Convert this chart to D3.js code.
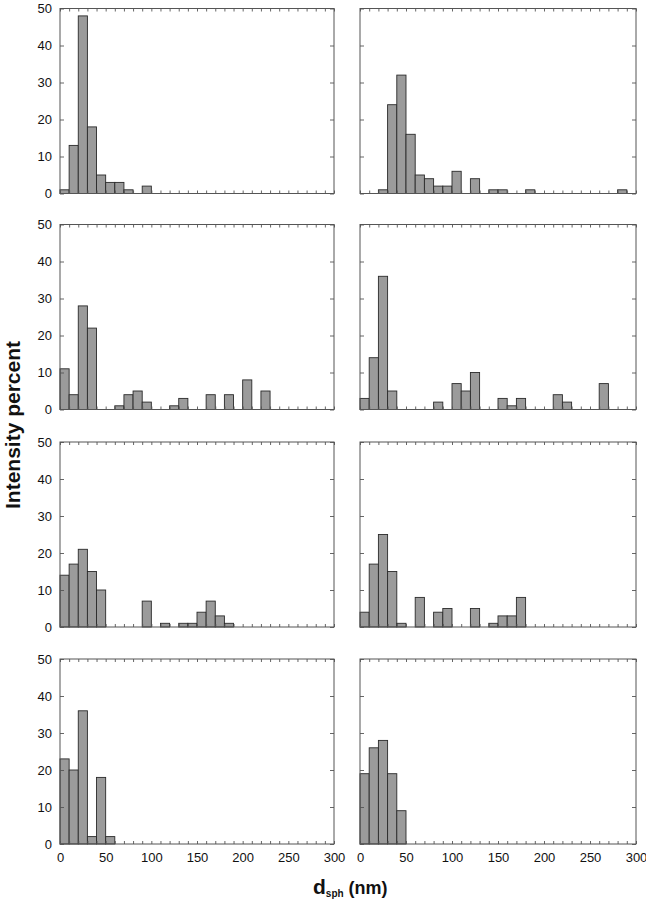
<!DOCTYPE html>
<html>
<head>
<meta charset="utf-8">
<script src="https://cdn.jsdelivr.net/npm/d3@7"></script>
<style>
  html, body { margin: 0; padding: 0; background: #fff; }
  svg { display: block; }
  text { font-family: "Liberation Sans", Arial, Helvetica, sans-serif; }
</style>
</head>
<body>
<svg id="chart" width="646" height="900"></svg>
<script>
// ---- DATA ----
// histogram bin left edges (nm), each bin 10 nm wide
const binStarts = [0,10,20,30,40,50,60,70,80,90,100,110,120,130,140,150,160,170,180,190,200,210,220,230,240,250,260,270,280,290];
const binWidth = 10;

// intensity percent per bin, one array per panel (row by row, left then right)
const panelA = [1,13,48,18,5,3,3,1,0,2,0,0,0,0,0,0,0,0,0,0,0,0,0,0,0,0,0,0,0,0];
const panelB = [0,0,1,24,32,16,5,4,2,2,6,0,4,0,1,1,0,0,1,0,0,0,0,0,0,0,0,0,1,0];
const panelC = [11,4,28,22,0,0,1,4,5,2,0,0,1,3,0,0,4,0,4,0,8,0,5,0,0,0,0,0,0,0];
const panelD = [3,14,36,5,0,0,0,0,2,0,7,5,10,0,0,3,1,3,0,0,0,4,2,0,0,0,7,0,0,0];
const panelE = [14,17,21,15,10,0,0,0,0,7,0,1,0,1,1,4,7,3,1,0,0,0,0,0,0,0,0,0,0,0];
const panelF = [4,17,25,15,1,0,8,0,4,5,0,0,5,0,1,3,3,8,0,0,0,0,0,0,0,0,0,0,0,0];
const panelG = [23,20,36,2,18,2,0,0,0,0,0,0,0,0,0,0,0,0,0,0,0,0,0,0,0,0,0,0,0,0];
const panelH = [19,26,28,19,9,0,0,0,0,0,0,0,0,0,0,0,0,0,0,0,0,0,0,0,0,0,0,0,0,0];

const panels = [panelA, panelB, panelC, panelD, panelE, panelF, panelG, panelH];

const xTickLabels = [0,50,100,150,200,250,300];
const yTickValues = [0,10,20,30,40,50];
const xMinorTicks = [0,10,20,30,40,50,60,70,80,90,100,110,120,130,140,150,160,170,180,190,200,210,220,230,240,250,260,270,280,290,300];
const yLabel = "Intensity percent";

// ---- LAYOUT ----
const svg = d3.select("#chart");
const colRanges = [[60, 334], [360, 636]];
const rowTops = [8.5, 224.5, 442, 659];
const panelH_px = 185;

const frameColor = "#555";
const barFill = "#9b9b9b";
const barStroke = "#2a2a2a";

panels.forEach((vals, idx) => {
  const row = Math.floor(idx / 2), col = idx % 2;
  const x = d3.scaleLinear().domain([0, 300]).range(colRanges[col]);
  const top = rowTops[row];
  const y = d3.scaleLinear().domain([0, 50]).range([top + panelH_px, top]);
  const g = svg.append("g");

  // bars
  const data = binStarts.map((b, i) => ({ b, v: vals[i] })).filter(d => d.v > 0);
  g.selectAll("rect.bar").data(data).join("rect")
    .attr("class", "bar")
    .attr("x", d => x(d.b))
    .attr("y", d => y(d.v))
    .attr("width", d => x(d.b + binWidth) - x(d.b))
    .attr("height", d => y(0) - y(d.v))
    .attr("fill", barFill)
    .attr("stroke", barStroke)
    .attr("stroke-width", 0.9);

  // left axis (labels only in left column)
  const leftAx = d3.axisLeft(y).tickValues(yTickValues).tickSizeInner(-4).tickSizeOuter(0).tickPadding(8)
    .tickFormat(d => col === 0 ? d : "");
  const gl = g.append("g").attr("transform", `translate(${x(0)},0)`).call(leftAx);
  // right axis
  const rightAx = d3.axisRight(y).tickValues(yTickValues).tickSizeInner(-4).tickSizeOuter(0).tickFormat("");
  const gr = g.append("g").attr("transform", `translate(${x(300)},0)`).call(rightAx);
  // top minor ticks
  const topAx = d3.axisTop(x).tickValues(xMinorTicks).tickSizeInner(-3).tickSizeOuter(0).tickFormat("");
  const gt = g.append("g").attr("transform", `translate(0,${y(50)})`).call(topAx);
  // bottom minor ticks + labels in last row
  const botAx = d3.axisBottom(x).tickValues(xMinorTicks).tickSizeInner(-3).tickSizeOuter(0).tickPadding(9)
    .tickFormat(d => (row === 3 && xTickLabels.includes(d)) ? d : "");
  const gb = g.append("g").attr("transform", `translate(0,${y(0)})`).call(botAx);

  [gl, gr, gt, gb].forEach(a => {
    a.select(".domain").remove();
    a.selectAll(".tick line").attr("stroke", frameColor).attr("stroke-width", 0.9);
    a.selectAll(".tick text").attr("fill", "#111").style("font-size", "13px")
      .style("font-family", '"Liberation Sans", Arial, Helvetica, sans-serif');
  });

  // frame
  g.append("rect")
    .attr("x", x(0)).attr("y", y(50))
    .attr("width", x(300) - x(0)).attr("height", y(0) - y(50))
    .attr("fill", "none").attr("stroke", frameColor).attr("stroke-width", 1);
});

// y axis title
svg.append("text")
  .attr("transform", "translate(20,425) rotate(-90)")
  .attr("text-anchor", "middle")
  .style("font-size", "21px").style("font-weight", "bold").attr("fill", "#111")
  .text(yLabel);

// x axis title: d_sph (nm)
const xt = svg.append("text")
  .attr("x", 313).attr("y", 894)
  .style("font-weight", "bold").attr("fill", "#111");
xt.append("tspan").style("font-size", "21px").text("d");
xt.append("tspan").style("font-size", "10px").attr("dy", 3).text("sph");
xt.append("tspan").style("font-size", "18px").attr("dy", -3).attr("dx", 5).text("(nm)");
</script>
</body>
</html>
